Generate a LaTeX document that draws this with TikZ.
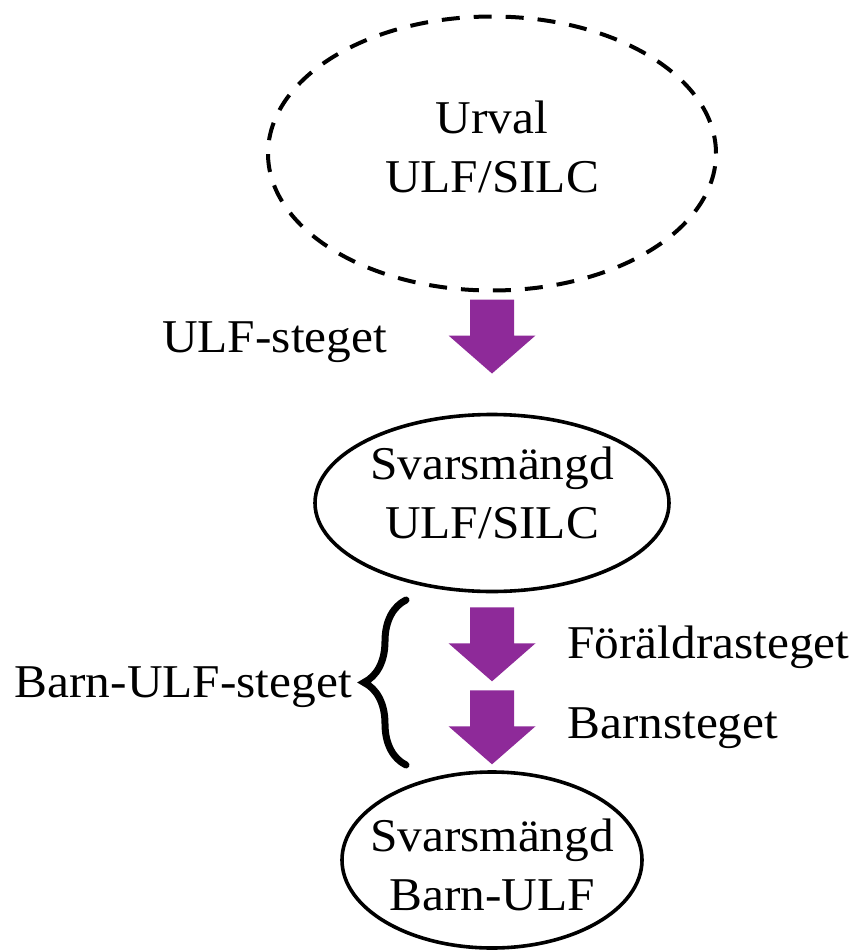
\documentclass[tikz,border=0pt]{standalone}
\usepackage{fontspec}
\setmainfont{Liberation Serif}[FakeStretch=1.05]
\usetikzlibrary{shapes.geometric,calc,decorations.pathreplacing}
\definecolor{plum}{HTML}{8E2A99}
\definecolor{ink}{HTML}{000000}

\tikzset{
  lbl/.style={font=\fontsize{47}{58.5}\selectfont,text=ink,inner sep=0pt},
  sample/.style={ellipse,draw=ink,line width=3.6pt,inner sep=0pt},
  pics/blockarrow/.style={code={
    \fill[plum] (-22,0) -- (22,0) -- (22,36) -- (43.5,36) -- (0,74)
      -- (-43.5,36) -- (-22,36) -- cycle;}}
}

\begin{document}
\begin{tikzpicture}[x=1pt,y=-1pt]
  \useasboundingbox (0,0) rectangle (866,950);
  % the three sets
  \node[sample,dash pattern=on 18pt off 14pt,line width=4pt,
        minimum width=448,minimum height=274] (urval) at (492,153.5) {};
  \node[sample,minimum width=354,minimum height=177] (svar) at (492,503) {};
  \node[sample,minimum width=300,minimum height=176] (barn) at (492,860) {};
  \node[lbl,align=center] (urvaltxt) at (492,147) {Urval\\ULF/SILC};
  \node[lbl,align=center] (svartxt) at (492,493) {Svarsmängd\\ULF/SILC};
  \node[lbl,align=center] (barntxt) at (492,865) {Svarsmängd\\Barn-ULF};
  % steps
  \pic at ($(urval.south)+(0,7)$) {blockarrow};
  \pic at ($(svar.south)+(0,14)$) {blockarrow};
  \pic at ($(svar.south)+(0,97)$) {blockarrow};
  \node[lbl,anchor=base west] (ulfsteg) at (162,352) {ULF-steget};
  \node[lbl,anchor=base west] (foraldsteg) at (567,658) {Föräldrasteget};
  \node[lbl,anchor=base west] (barnsteg) at (567,738) {Barnsteget};
  % the brace round the two child steps
  \coordinate (bracebot) at (406,765);
  \coordinate (bracetop) at (406,600);
  \draw[ink,line width=7pt,line cap=round,decorate,
        decoration={brace,amplitude=42pt}] (bracebot) -- (bracetop);
  \node[lbl,anchor=base east] (barnulf) at (352,697) {Barn-ULF-steget};
\end{tikzpicture}
\end{document}
